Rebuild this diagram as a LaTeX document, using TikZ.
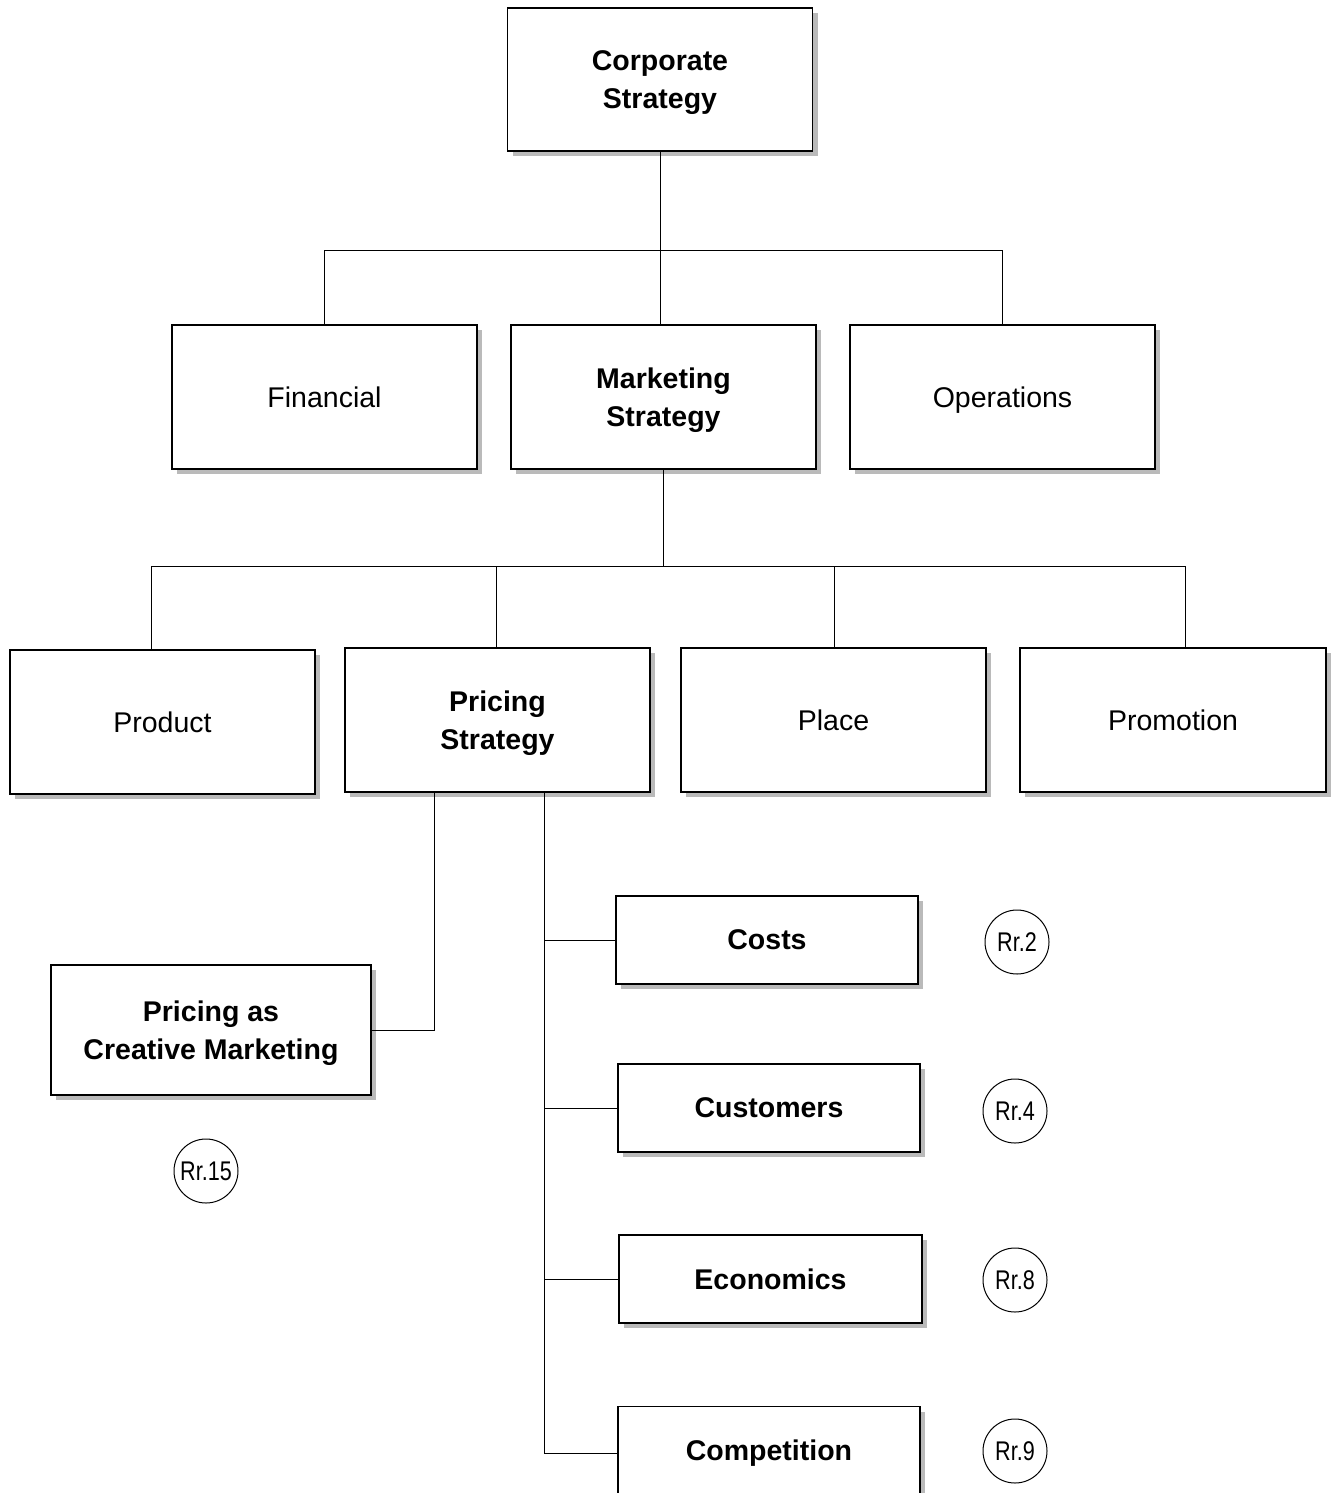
\documentclass[tikz,border=0pt]{standalone}
\usepackage{fontspec}
\setmainfont{Liberation Sans}
\newfontfamily\narrowfont[FakeStretch=0.8]{Liberation Sans}
\usetikzlibrary{shadows}
\begin{document}
\begin{tikzpicture}[x=1pt,y=-1pt,
  box/.style={draw=black, line width=1.2pt, fill=white, align=center,
    inner sep=0pt, text depth=0pt, font=\fontsize{28.5}{38}\selectfont,
    drop shadow={shadow xshift=5pt, shadow yshift=-5pt, fill=black!27, opacity=1}},
  bbox/.style={box, font=\fontsize{28.5}{38}\selectfont\bfseries},
  ref/.style={draw=black, line width=1pt, circle, minimum size=64pt, inner sep=0pt,
    font=\fontsize{27}{27}\selectfont\narrowfont},
  conn/.style={draw=black, line width=1pt}]
\useasboundingbox (0,0) rectangle (1332,1493);
\begin{scope}
\clip (0,0) rectangle (1332,1493);
% level 1
\node[bbox, minimum width=305pt, minimum height=143pt] (corp) at (660,79.5) {Corporate\\Strategy};
% level 2
\node[box, minimum width=305pt, minimum height=144pt] (fin) at (324.5,397) {Financial};
\node[bbox, minimum width=305pt, minimum height=144pt] (mkt) at (663.5,397) {Marketing\\Strategy};
\node[box, minimum width=305pt, minimum height=144pt] (ops) at (1002.5,397) {Operations};
% level 3
\node[box, minimum width=305pt, minimum height=144pt] (prod) at (162.5,722) {Product};
\node[bbox, minimum width=305pt, minimum height=144pt] (pric) at (497.5,720) {Pricing\\Strategy};
\node[box, minimum width=305pt, minimum height=144pt] (place) at (833.5,720) {Place};
\node[box, minimum width=306pt, minimum height=144pt] (promo) at (1173,720) {Promotion};
% level 4
\node[bbox, minimum width=320pt, minimum height=130pt] (creat) at (211,1030) {Pricing as\\Creative Marketing};
\node[bbox, minimum width=302pt, minimum height=88pt] (costs) at (767,940) {Costs};
\node[bbox, minimum width=302pt, minimum height=88pt] (cust) at (769,1108) {Customers};
\node[bbox, minimum width=303pt, minimum height=88pt] (econ) at (770.5,1279) {Economics};
\node[bbox, minimum width=302pt, minimum height=88pt, anchor=north] (comp) at (769,1406) {};
\node[font=\fontsize{28.5}{38}\selectfont\bfseries, inner sep=0pt, text depth=0pt] (comptxt) at (769,1450) {Competition};
% references
\node[ref] (r2) at (1017,942) {Rr.2};
\node[ref] (r4) at (1015,1111) {Rr.4};
\node[ref] (r8) at (1015,1280) {Rr.8};
\node[ref] (r9) at (1015,1451) {Rr.9};
\node[ref] (r15) at (206,1171) {Rr.15};
% connectors
\coordinate (b1) at (660,250);
\draw[conn] (corp.south) -- (b1);
\draw[conn] (fin.north) -- (fin.north |- b1) -- (ops.north |- b1) -- (ops.north);
\draw[conn] (b1) -- (mkt.north -| b1);
\coordinate (b2) at (663,566);
\draw[conn] (mkt.south -| b2) -- (b2);
\coordinate (pp) at (151,650);
\draw[conn] (prod.north -| pp) -- (pp |- b2) -- (1185,566) -- (promo.north -| 1185,0);
\draw[conn] (496,566) -- (pric.north -| 496,0);
\draw[conn] (834,566) -- (place.north -| 834,0);
% pricing branches
\coordinate (pl) at (434,1030);
\draw[conn] (pric.south -| pl) -- (pl) -- (creat.east);
\coordinate (pr) at (544,1453);
\draw[conn] (pric.south -| pr) -- (pr) -- (comp.west |- pr);
\draw[conn] (pr |- costs.west) -- (costs.west);
\draw[conn] (pr |- cust.west) -- (cust.west);
\draw[conn] (pr |- econ.west) -- (econ.west);
\end{scope}
\end{tikzpicture}
\end{document}
